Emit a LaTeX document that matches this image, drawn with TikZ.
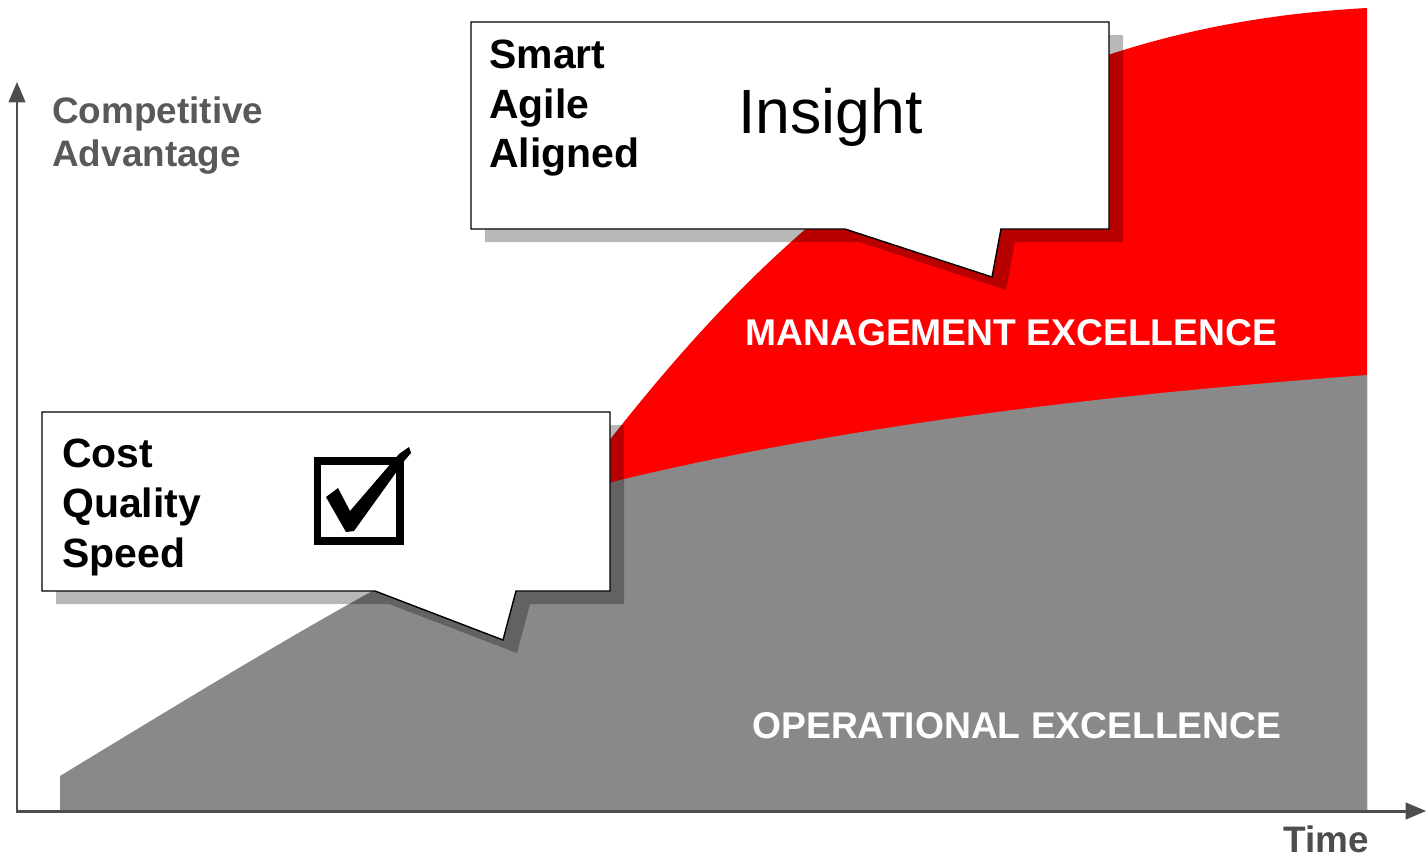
\documentclass[tikz,border=0pt]{standalone}
\usepackage{fontspec}
\setmainfont{Liberation Sans}
\usetikzlibrary{arrows}
\definecolor{opgray}{HTML}{898989}
\definecolor{axisgray}{HTML}{4D4D4D}
\definecolor{labelgray}{HTML}{595959}

\begin{document}
\begin{tikzpicture}[x=0.02cm,y=-0.02cm]
\tikzstyle{every node}=[inner sep=0pt, anchor=base west]
\tikzstyle{callout}=[draw=black, fill=white, line width=0.8pt, line join=miter]
\tikzstyle{shade}=[fill=black, opacity=0.28]
\tikzstyle{boxtext}=[font=\fontsize{23.3}{28}\selectfont\bfseries]
\tikzstyle{axislabel}=[text=labelgray, font=\fontsize{21}{25}\selectfont\bfseries]
\tikzstyle{arealabel}=[text=white, font=\fontsize{21.2}{25}\selectfont\bfseries]
\useasboundingbox (0,0) rectangle (1427,859);

% the two areas
\fill[red] (560,505) .. controls (750,250) and (960,30) .. (1367,8) -- (1367,810) -- (560,810) -- cycle;
\fill[opgray] (60,810) -- (60,776) .. controls (300,630) and (480,520) .. (620,480) .. controls (850,425) and (1100,395) .. (1367,375) -- (1367,810) -- cycle;

% axes
\coordinate (origin) at (17,811);
\coordinate (ytop) at (17,82);
\coordinate (xright) at (1426,811);
\draw[axisgray, line width=1.7pt, triangle 45-triangle 45] (ytop) -- (origin) -- (xright);

\node[axislabel] (compadv) at (52,123) {Competitive};
\node[axislabel] (advantage) at (52,166) {Advantage};
\node[axislabel, text=axisgray] (time) at (1283,852) {Time};
\node[arealabel] (mgmt) at (745,345) {MANAGEMENT EXCELLENCE};
\node[arealabel] (ops) at (752,738) {OPERATIONAL EXCELLENCE};

% lower callout
\fill[shade, shift={(14,13)}] (42,412) -- (610,412) -- (610,591) -- (516,591) -- (503,640) -- (375,591) -- (42,591) -- cycle;
\draw[callout] (42,412) -- (610,412) -- (610,591) -- (516,591) -- (503,640) -- (375,591) -- (42,591) -- cycle;
\node[boxtext] (cost) at (62,467) {Cost};
\node[boxtext] (quality) at (62,517) {Quality};
\node[boxtext] (speed) at (62,567) {Speed};
\draw[line width=4.5pt] (317.5,461) rectangle (400,541);
\fill (326,497) -- (338,488) -- (350,511) -- (399,454) -- (409,447) -- (411,453) -- (405,460) -- (354,531) -- (346,532) -- cycle;

% upper callout
\fill[shade, shift={(14,13)}] (471,22) -- (1109,22) -- (1109,229) -- (1001,229) -- (992,277) -- (845,229) -- (471,229) -- cycle;
\draw[callout] (471,22) -- (1109,22) -- (1109,229) -- (1001,229) -- (992,277) -- (845,229) -- (471,229) -- cycle;
\node[boxtext] (smart) at (489,68) {Smart};
\node[boxtext] (agile) at (489,118) {Agile};
\node[boxtext] (aligned) at (489,167) {Aligned};
\node[font=\fontsize{35.6}{40}\selectfont] (insight) at (738,133) {Insight};
\end{tikzpicture}
\end{document}
